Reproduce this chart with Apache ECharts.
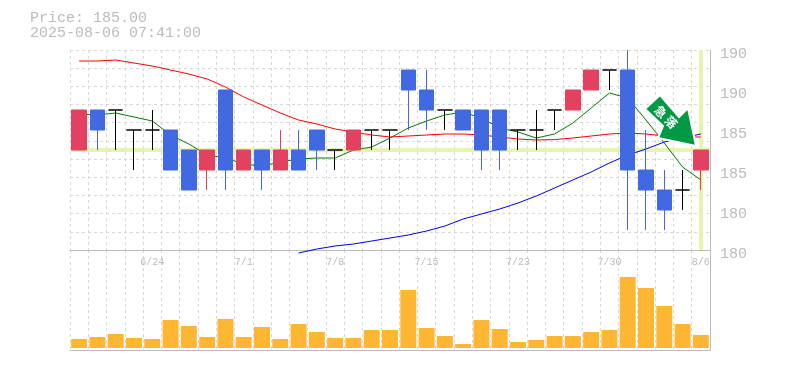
<!DOCTYPE html>
<html>
<head>
<meta charset="utf-8">
<style>
    html, body { margin: 0; padding: 0; background: #fff; }
    #main { width: 785px; height: 370px; }
</style>
<script src="https://cdn.jsdelivr.net/npm/echarts@6/dist/echarts.min.js"></script>
</head>
<body>
<div id="main"></div>
<script>
// x axis days, only the weekly ones get a label
var dates = ['6/18','6/19','6/20','6/23','6/24','6/25','6/26','6/27','6/30','7/1','7/2','7/3','7/4','7/7','7/8','7/9','7/10','7/11','7/14','7/15','7/16','7/17','7/18','7/22','7/23','7/24','7/25','7/28','7/29','7/30','7/31','8/1','8/4','8/5','8/6'];
var shownDates = ['6/24','7/1','7/8','7/15','7/23','7/30','8/6'];
// open, close, low, high
var candles = [
    [185,187,185,187],[187,186,185,187],[187,187,185,187],[186,186,184,186],[186,186,185,187],
    [186,184,184,186],[185,183,183,185],[184,185,183,185],[188,184,183,188],[184,185,184,185],
    [185,184,183,185],[184,185,184,186],[185,184,184,186],[186,185,184,186],[185,185,184,185],
    [185,186,185,186],[186,186,185,186],[186,186,185,186],[189,188,186,189],[188,187,186,189],
    [187,187,186,187],[187,186,186,187],[187,185,184,187],[187,185,184,187],[186,186,185,186],
    [186,186,185,187],[187,187,186,187],[187,188,187,188],[188,189,188,189],[189,189,188,189],
    [189,184,181,190],[184,183,181,186],[183,182,181,184],[183,183,182,184],[184,185,183,185]
];
var maShort = [186.8,186.75,186.85,186.65,186.45,185.75,185.3,184.75,184.6,184.3,184.2,184.4,184.55,184.6,184.6,185,185.15,185.6,186.1,186.45,186.75,186.9,186.6,186.1,185.9,185.6,185.8,186.35,187.1,187.85,187.6,186.5,185.35,184.15,183.5];
var maMid = [189.45,189.45,189.5,189.35,189.2,189,188.8,188.55,188.15,187.65,187.25,186.85,186.5,186.3,186.05,185.9,185.75,185.65,185.7,185.75,185.8,185.8,185.75,185.65,185.55,185.5,185.52,185.6,185.7,185.8,185.85,185.8,185.7,185.65,185.65];
var maLong = [null,null,null,null,null,null,null,null,null,null,null,null,179.85,180.05,180.2,180.3,180.45,180.6,180.75,180.95,181.2,181.55,181.8,182.05,182.35,182.7,183.1,183.5,183.9,184.35,184.75,185.05,185.4,185.6,185.8];
var volumes = [9,11,14,10,9,28,22,11,29,11,21,9,24,16,10,10,18,18,58,20,12,4,28,19,6,8,12,12,16,18,71,60,42,24,13];
var priceNow = 185;
var priceTicks = {190:'190',188:'190',186:'185',184:'185',182:'180',180:'180'};

var GRID_DASH = { color: '#d8d8d8', width: 1, type: [3, 3] };
var FONT = '"Liberation Mono", monospace';
var GREY = '#bcbcbc';
var HILITE = '#e5f5ab';

var myChart = echarts.init(document.getElementById('main'));

var option = {
    animation: false,
    backgroundColor: '#ffffff',
    title: {
        text: 'Price: 185.00\n2025-08-06 07:41:00',
        left: 25,
        top: 6,
        textStyle: { fontFamily: FONT, fontSize: 15, fontWeight: 'normal', color: GREY, lineHeight: 15 }
    },
    grid: [
        { left: 70, top: 50, width: 640, height: 200, show: false },
        { left: 70, top: 250, width: 640, height: 100, show: false }
    ],
    xAxis: [
        {
            type: 'category', data: dates, gridIndex: 0,
            axisLine: { show: true, onZero: false, lineStyle: { color: '#bbbbbb', width: 1 } },
            axisTick: { show: false },
            axisLabel: {
                show: true, interval: 0, margin: 7, fontFamily: FONT, fontSize: 10, color: GREY,
                formatter: function (v) { return shownDates.indexOf(v) >= 0 ? v : ''; }
            },
            splitLine: { show: true, interval: 0, lineStyle: GRID_DASH }
        },
        {
            type: 'category', data: dates, gridIndex: 1,
            axisLine: { show: true, onZero: false, lineStyle: { color: '#bbbbbb', width: 1 } },
            axisTick: { show: false },
            axisLabel: { show: false },
            splitLine: { show: true, interval: 0, lineStyle: GRID_DASH }
        }
    ],
    yAxis: [
        {
            type: 'value', gridIndex: 0, min: 180, max: 190, interval: 2, position: 'right',
            axisLine: { show: true, lineStyle: { color: '#bbbbbb', width: 1 } },
            axisTick: { show: false },
            axisLabel: {
                margin: 10,
                formatter: function (v) { return '{n|' + priceTicks[v] + '}'; },
                rich: { n: { fontFamily: FONT, fontSize: 15, color: GREY, padding: [8, 0, 0, 0] } }
            },
            splitLine: { show: false }
        },
        {
            type: 'value', gridIndex: 0, min: 180, max: 190, interval: 0.90909, position: 'left',
            axisLine: { show: false }, axisTick: { show: false }, axisLabel: { show: false },
            splitLine: { show: true, lineStyle: GRID_DASH }
        },
        {
            type: 'value', gridIndex: 1, min: -2, max: 98, position: 'right',
            axisLine: { show: true, lineStyle: { color: '#bbbbbb', width: 1 } },
            axisTick: { show: false }, axisLabel: { show: false }, splitLine: { show: false }
        }
    ],
    series: [
        {
            name: 'now', type: 'line', data: [], silent: true, z: 1,
            markLine: {
                silent: true, symbol: 'none', label: { show: false }, animation: false, z: 1,
                lineStyle: { color: HILITE, width: 4, type: 'solid' },
                data: [{ yAxis: priceNow }, { xAxis: dates[dates.length - 1] }]
            }
        },
        {
            name: 'ma5', type: 'line', data: maShort, symbol: 'none', z: 2, silent: true,
            lineStyle: { color: '#008000', width: 1 }
        },
        {
            name: 'ma25', type: 'line', data: maMid, symbol: 'none', z: 2, silent: true,
            lineStyle: { color: '#ff0000', width: 1 }
        },
        {
            name: 'ma75', type: 'line', data: maLong, symbol: 'none', z: 2, silent: true, clip: false,
            lineStyle: { color: '#0000ff', width: 1 }
        },
        {
            name: 'price', type: 'candlestick', data: candles, barWidth: 15, z: 3, silent: true, clip: false,
            itemStyle: {
                color: '#e24260', color0: '#4169e1',
                borderColor: '#e24260', borderColor0: '#4169e1', borderColorDoji: '#000000',
                borderWidth: 1
            }
        },
        {
            name: 'volume', type: 'bar', data: volumes, xAxisIndex: 1, yAxisIndex: 2, barWidth: 16, silent: true,
            itemStyle: { color: '#ffb733' }
        }
    ],
    graphic: [
        {
            type: 'polygon', z: 100,
            shape: { points: [[660, 95], [645, 109], [663, 126], [658, 138], [696, 146], [688, 108], [679, 117]] },
            style: { fill: '#009944', stroke: '#ffffff', lineWidth: 2 }
        },
        {
            type: 'text', z: 101, x: 666, y: 117, rotation: -Math.PI / 4,
            style: {
                text: '急 落', fill: '#ffffff', align: 'center', verticalAlign: 'middle',
                font: 'bold 12px "Noto Sans CJK JP"'
            }
        }
    ]
};

option && myChart.setOption(option);
</script>
</body>
</html>
